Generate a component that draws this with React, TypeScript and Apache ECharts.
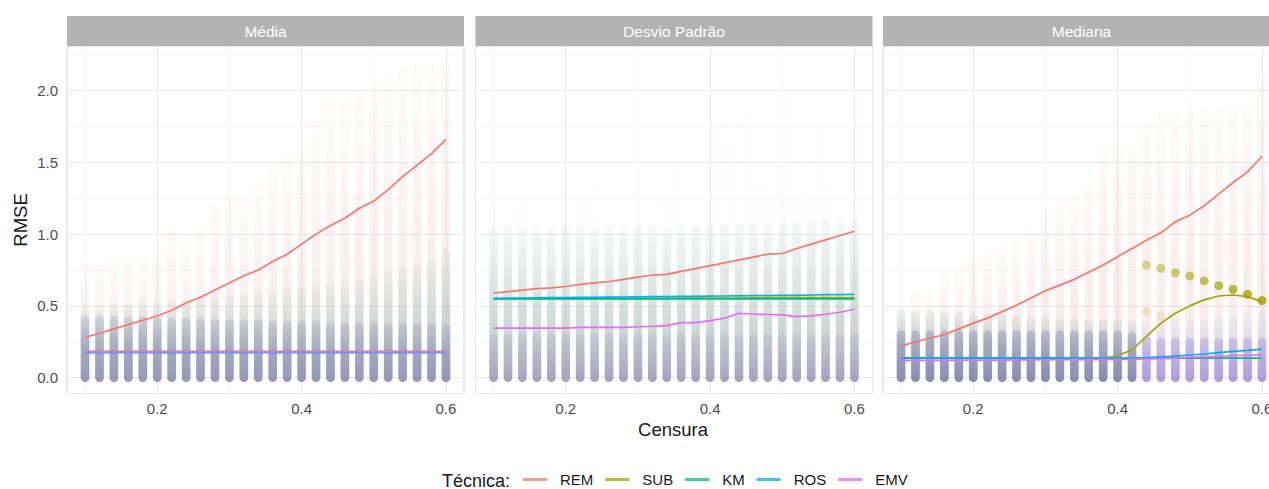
import React, { useEffect, useRef } from "react";
import * as echarts from "echarts";

// ---------- data ----------
const censura = [0.10, 0.12, 0.14, 0.16, 0.18, 0.20, 0.22, 0.24, 0.26, 0.28, 0.30, 0.32, 0.34, 0.36, 0.38, 0.40, 0.42, 0.44, 0.46, 0.48, 0.50, 0.52, 0.54, 0.56, 0.58, 0.60];
const techniques = ["REM", "SUB", "KM", "ROS", "EMV"];
const techColors = ["#F8766D", "#A3A500", "#00BF7D", "#00B0F6", "#E76BF3"];
const panelTitles = ["Média", "Desvio Padrão", "Mediana"];

// Média
const remMedia = [0.28, 0.31, 0.34, 0.37, 0.40, 0.43, 0.47, 0.52, 0.56, 0.61, 0.66, 0.71, 0.75, 0.81, 0.86, 0.93, 1.00, 1.06, 1.11, 1.18, 1.23, 1.31, 1.40, 1.48, 1.56, 1.66];
const subMedia = [0.184, 0.184, 0.184, 0.184, 0.184, 0.184, 0.184, 0.184, 0.184, 0.184, 0.184, 0.184, 0.184, 0.184, 0.184, 0.184, 0.184, 0.184, 0.184, 0.184, 0.184, 0.184, 0.184, 0.184, 0.184, 0.184];
const kmMedia = [0.18, 0.18, 0.18, 0.18, 0.18, 0.18, 0.18, 0.18, 0.18, 0.18, 0.18, 0.18, 0.18, 0.18, 0.18, 0.18, 0.18, 0.18, 0.18, 0.18, 0.18, 0.18, 0.18, 0.18, 0.18, 0.18];
const rosMedia = [0.175, 0.175, 0.175, 0.175, 0.175, 0.175, 0.175, 0.175, 0.175, 0.175, 0.175, 0.175, 0.175, 0.175, 0.175, 0.175, 0.175, 0.175, 0.175, 0.175, 0.175, 0.175, 0.175, 0.175, 0.175, 0.175];
const emvMedia = [0.18, 0.18, 0.18, 0.18, 0.18, 0.18, 0.18, 0.18, 0.18, 0.18, 0.18, 0.18, 0.18, 0.18, 0.18, 0.18, 0.18, 0.18, 0.18, 0.18, 0.18, 0.18, 0.18, 0.18, 0.18, 0.18];

// Desvio Padrão
const remDesvio = [0.59, 0.60, 0.61, 0.62, 0.625, 0.635, 0.65, 0.66, 0.67, 0.685, 0.70, 0.715, 0.72, 0.74, 0.76, 0.78, 0.80, 0.82, 0.84, 0.86, 0.865, 0.90, 0.93, 0.96, 0.99, 1.02];
const subDesvio = [0.550, 0.550, 0.550, 0.550, 0.550, 0.550, 0.551, 0.551, 0.552, 0.552, 0.552, 0.553, 0.553, 0.554, 0.554, 0.555, 0.555, 0.555, 0.556, 0.556, 0.557, 0.557, 0.557, 0.558, 0.558, 0.558];
const kmDesvio = [0.549, 0.549, 0.549, 0.549, 0.549, 0.549, 0.549, 0.549, 0.549, 0.549, 0.549, 0.549, 0.549, 0.549, 0.549, 0.549, 0.549, 0.549, 0.549, 0.549, 0.549, 0.549, 0.549, 0.549, 0.549, 0.549];
const rosDesvio = [0.553, 0.554, 0.555, 0.556, 0.557, 0.558, 0.559, 0.560, 0.561, 0.562, 0.563, 0.564, 0.565, 0.566, 0.567, 0.568, 0.569, 0.570, 0.571, 0.572, 0.573, 0.574, 0.576, 0.578, 0.579, 0.581];
const emvDesvio = [0.345, 0.345, 0.345, 0.345, 0.345, 0.345, 0.35, 0.35, 0.35, 0.35, 0.355, 0.358, 0.363, 0.384, 0.384, 0.398, 0.414, 0.449, 0.442, 0.44, 0.438, 0.426, 0.43, 0.442, 0.456, 0.477];

// Mediana
const remMediana = [0.22, 0.25, 0.275, 0.30, 0.34, 0.38, 0.415, 0.46, 0.505, 0.555, 0.605, 0.645, 0.685, 0.735, 0.785, 0.843, 0.90, 0.958, 1.009, 1.086, 1.132, 1.197, 1.278, 1.359, 1.433, 1.542];
const subMediana = [0.137, 0.137, 0.137, 0.137, 0.137, 0.137, 0.137, 0.137, 0.137, 0.137, 0.137, 0.137, 0.137, 0.137, 0.137, 0.153, 0.194, 0.287, 0.38, 0.449, 0.50, 0.542, 0.569, 0.576, 0.565, 0.53];
const kmMediana = [0.137, 0.137, 0.137, 0.137, 0.137, 0.137, 0.137, 0.137, 0.137, 0.137, 0.137, 0.137, 0.137, 0.137, 0.137, 0.137, 0.137, 0.137, 0.137, 0.137, 0.137, 0.137, 0.137, 0.137, 0.137, 0.137];
const rosMediana = [0.137, 0.137, 0.137, 0.137, 0.137, 0.137, 0.137, 0.137, 0.137, 0.137, 0.137, 0.137, 0.137, 0.137, 0.137, 0.137, 0.137, 0.140, 0.145, 0.150, 0.158, 0.165, 0.175, 0.183, 0.190, 0.199];
const emvMediana = [0.120, 0.120, 0.121, 0.121, 0.122, 0.122, 0.123, 0.123, 0.124, 0.124, 0.125, 0.125, 0.126, 0.126, 0.127, 0.128, 0.129, 0.131, 0.133, 0.136, 0.141, 0.145, 0.149, 0.153, 0.156, 0.160];

// highlighted SUB points (Mediana)
const subPointsX = [0.44, 0.46, 0.48, 0.50, 0.52, 0.54, 0.56, 0.58, 0.60];
const subPointsY = [0.785, 0.762, 0.731, 0.708, 0.674, 0.641, 0.616, 0.581, 0.537];
const subFaintX = [0.44, 0.46];
const subFaintY = [0.46, 0.43];

// point clouds per column: top of dense band, top of mid band, top of faint REM band
const denseMedia = [0.40, 0.40, 0.40, 0.40, 0.40, 0.39, 0.39, 0.39, 0.39, 0.38, 0.38, 0.38, 0.38, 0.37, 0.37, 0.37, 0.37, 0.36, 0.36, 0.36, 0.36, 0.35, 0.35, 0.35, 0.35, 0.35];
const midMedia = [0.48, 0.48, 0.49, 0.49, 0.50, 0.50, 0.51, 0.52, 0.53, 0.54, 0.55, 0.56, 0.57, 0.58, 0.60, 0.61, 0.62, 0.63, 0.65, 0.67, 0.69, 0.72, 0.75, 0.76, 0.80, 0.87];
const redMedia = [0.78, 0.77, 0.80, 0.80, 0.83, 0.80, 1.03, 0.94, 1.01, 1.18, 1.23, 1.20, 1.31, 1.45, 1.53, 1.61, 1.76, 1.93, 1.90, 1.97, 2.03, 2.09, 2.15, 2.15, 2.13, 2.17];

const denseDesvio = [0.28, 0.28, 0.28, 0.28, 0.28, 0.28, 0.28, 0.28, 0.28, 0.28, 0.28, 0.28, 0.28, 0.28, 0.28, 0.28, 0.28, 0.28, 0.28, 0.28, 0.28, 0.28, 0.28, 0.28, 0.28, 0.28];
const midDesvio = [1.03, 1.03, 1.03, 1.03, 1.03, 1.03, 1.03, 1.03, 1.03, 1.03, 1.03, 1.03, 1.03, 1.03, 1.03, 1.03, 1.04, 1.04, 1.05, 1.05, 1.06, 1.06, 1.07, 1.07, 1.08, 1.08];
const redDesvio = [1.19, 1.21, 1.21, 1.25, 1.26, 1.27, 1.32, 1.33, 1.34, 1.38, 1.40, 1.42, 1.48, 1.57, 1.66, 1.73, 1.81, 1.84, 1.93, 2.03, 2.03, 2.14, 2.14, 1.80, 1.86, 1.94];

const denseMediana = [0.30, 0.30, 0.30, 0.30, 0.30, 0.30, 0.30, 0.30, 0.30, 0.30, 0.30, 0.30, 0.30, 0.30, 0.30, 0.30, 0.29, 0.26, 0.25, 0.25, 0.25, 0.25, 0.25, 0.25, 0.25, 0.25];
const midMediana = [0.45, 0.44, 0.44, 0.43, 0.43, 0.42, 0.42, 0.41, 0.41, 0.40, 0.40, 0.39, 0.39, 0.38, 0.38, 0.38, 0.37, 0.36, 0.37, 0.38, 0.38, 0.39, 0.40, 0.41, 0.42, 0.45];
const redMediana = [0.45, 0.57, 0.57, 0.73, 0.73, 0.80, 0.85, 0.90, 0.95, 1.00, 1.17, 1.20, 1.24, 1.32, 1.60, 1.60, 1.60, 1.745, 1.83, 1.83, 1.83, 1.85, 1.86, 1.86, 1.86, 2.09];

const panelLines = [
  [remMedia, subMedia, kmMedia, rosMedia, emvMedia],
  [remDesvio, subDesvio, kmDesvio, rosDesvio, emvDesvio],
  [remMediana, subMediana, kmMediana, rosMediana, emvMediana],
];
const panelClouds = [
  [denseMedia, midMedia, redMedia],
  [denseDesvio, midDesvio, redDesvio],
  [denseMediana, midMediana, redMediana],
];

// ---------- layout / style ----------
const FONT = "'Liberation Sans', Arial, sans-serif";
const GRID_LEFT = [67, 475.5, 883];
const GRID_TOP = 46;
const GRID_W = 397;
const GRID_H = 347.5;
const X_MIN = 0.075, X_MAX = 0.625;
const Y_MIN = -0.11, Y_MAX = 2.31;

type Scheme = { red: string[]; mid: string[]; dense: string[] };
const schemes: Scheme[] = [
  {
    red: ["rgba(240,165,165,0.05)", "rgba(240,150,150,0.15)", "rgba(240,150,150,0.2)"],
    mid: ["rgba(110,180,160,0.08)", "rgba(100,170,150,0.3)", "rgba(100,150,150,0.38)"],
    dense: ["rgba(132,138,182,0.2)", "rgba(122,128,176,0.5)", "rgba(118,122,172,0.62)"],
  },
  {
    red: ["rgba(240,170,180,0.02)", "rgba(240,170,180,0.05)"],
    mid: ["rgba(150,200,185,0.08)", "rgba(140,180,170,0.25)", "rgba(130,165,160,0.4)", "rgba(135,140,165,0.45)"],
    dense: ["rgba(140,130,175,0.12)", "rgba(130,120,170,0.5)"],
  },
  {
    red: ["rgba(240,160,160,0.05)", "rgba(240,150,150,0.16)", "rgba(240,150,150,0.22)"],
    mid: ["rgba(110,165,160,0.1)", "rgba(100,150,150,0.38)", "rgba(100,135,150,0.48)"],
    dense: ["rgba(120,120,175,0.3)", "rgba(112,110,170,0.62)"],
  },
];
const schemeMedianaRight: Scheme = {
  red: ["rgba(240,160,160,0.05)", "rgba(240,150,150,0.15)", "rgba(240,150,150,0.18)"],
  mid: ["rgba(160,185,230,0.1)", "rgba(150,165,220,0.3)", "rgba(150,150,215,0.4)"],
  dense: ["rgba(170,140,225,0.35)", "rgba(155,130,220,0.65)"],
};

function grad(stops: string[]) {
  return new echarts.graphic.LinearGradient(
    0, 0, 0, 1,
    stops.map((c, i) => ({ offset: i / (stops.length - 1), color: c }))
  );
}

export default function App() {
  const ref = useRef<HTMLDivElement>(null);

  useEffect(() => {
    document.body.style.margin = "0";
    if (!ref.current) return;
    const chart = echarts.init(ref.current, undefined, { renderer: "svg" });

    const grids = GRID_LEFT.map((left) => ({
      left, top: GRID_TOP, width: GRID_W, height: GRID_H,
      show: true, borderColor: "#d4d4d4", borderWidth: 1, backgroundColor: "transparent",
      containLabel: false,
    }));

    const xAxes = GRID_LEFT.map((_, i) => ({
      type: "value", gridIndex: i, min: X_MIN, max: X_MAX, splitNumber: 3,
      axisLine: { show: false }, axisTick: { show: false },
      axisLabel: {
        show: true, color: "#4d4d4d", fontSize: 15, fontFamily: FONT, margin: 7,
        showMinLabel: false, showMaxLabel: false,
        formatter: (v: number) => v.toFixed(1),
      },
      splitLine: { show: true, lineStyle: { color: "#e9e9e9", width: 1 } },
      minorTick: { show: false, splitNumber: 2 },
      minorSplitLine: { show: true, lineStyle: { color: "#f4f4f4", width: 1 } },
    }));

    const yAxes = GRID_LEFT.map((_, i) => ({
      type: "value", gridIndex: i, min: Y_MIN, max: Y_MAX, splitNumber: 5,
      axisLine: { show: false }, axisTick: { show: false },
      axisLabel: {
        show: i === 0, color: "#4d4d4d", fontSize: 15, fontFamily: FONT, margin: 9,
        showMinLabel: false, showMaxLabel: false,
        formatter: (v: number) => v.toFixed(1),
      },
      splitLine: { show: true, lineStyle: { color: "#e9e9e9", width: 1 } },
      minorTick: { show: false, splitNumber: 2 },
      minorSplitLine: { show: true, lineStyle: { color: "#f4f4f4", width: 1 } },
    }));

    const series: any[] = [];

    panelClouds.forEach((cloud, p) => {
      const [dense, mid, red] = cloud;
      series.push({
        type: "custom",
        xAxisIndex: p, yAxisIndex: p,
        silent: true,
        clip: false,
        encode: { x: 0, y: 3 },
        data: censura.map((x, i) => [x, dense[i], mid[i], red[i]]),
        renderItem: (params: any, api: any) => {
          const x = api.value(0);
          const base = api.coord([x, 0]);
          const pd = api.coord([x, api.value(1)]);
          const pm = api.coord([x, api.value(2)]);
          const pr = api.coord([x, api.value(3)]);
          const r = 4.3;
          const sc = p === 2 && x >= 0.43 ? schemeMedianaRight : schemes[p];
          const mk = (top: number[], fill: any) => ({
            type: "rect",
            shape: { x: base[0] - r, y: top[1] - r, width: 2 * r, height: base[1] - top[1] + 2 * r, r },
            style: { fill },
          });
          return {
            type: "group",
            children: [mk(pr, grad(sc.red)), mk(pm, grad(sc.mid)), mk(pd, grad(sc.dense))],
          };
        },
        z: 1,
      });
    });

    panelLines.forEach((lines, p) => {
      lines.forEach((vals, t) => {
        series.push({
          name: techniques[t],
          type: "line",
          xAxisIndex: p, yAxisIndex: p,
          data: censura.map((x, i) => [x, vals[i]]),
          showSymbol: false, symbol: "none",
          lineStyle: { color: techColors[t], width: 1.7 },
          itemStyle: { color: techColors[t] },
          z: 3,
        });
      });
    });

    series.push({
      type: "scatter", xAxisIndex: 2, yAxisIndex: 2, silent: true,
      symbolSize: 9,
      data: subPointsX.map((x, i) => ({
        value: [x, subPointsY[i]],
        itemStyle: { color: "#A3A500", opacity: 0.42 + i * 0.055 },
      })),
      z: 4,
    });
    series.push({
      type: "scatter", xAxisIndex: 2, yAxisIndex: 2, silent: true,
      symbolSize: 9,
      data: subFaintX.map((x, i) => ({
        value: [x, subFaintY[i]],
        itemStyle: { color: "#A3A500", opacity: 0.18 },
      })),
      z: 2,
    });

    const graphic: any[] = [];
    GRID_LEFT.forEach((left, i) => {
      graphic.push({
        type: "rect", left, top: 16,
        shape: { width: GRID_W, height: 30 },
        style: { fill: "#b3b3b3" }, silent: true,
      });
      graphic.push({
        type: "text", x: left + GRID_W / 2, y: 31.5,
        style: {
          text: panelTitles[i], fill: "#ffffff", font: `15.5px ${FONT}`,
          align: "center", verticalAlign: "middle",
        },
        silent: true,
      });
    });
    graphic.push({
      type: "text", x: 20, y: 220, rotation: Math.PI / 2,
      style: { text: "RMSE", fill: "#1a1a1a", font: `18.5px ${FONT}`, align: "center", verticalAlign: "middle" },
    });
    graphic.push({
      type: "text", x: 673, y: 429,
      style: { text: "Censura", fill: "#1a1a1a", font: `18.5px ${FONT}`, align: "center", verticalAlign: "middle" },
    });
    graphic.push({
      type: "text", x: 442, y: 480.5,
      style: { text: "Técnica:", fill: "#1a1a1a", font: `18px ${FONT}`, align: "left", verticalAlign: "middle" },
    });

    chart.setOption({
      animation: false,
      grid: grids,
      xAxis: xAxes,
      yAxis: yAxes,
      series,
      graphic,
      legend: {
        data: techniques,
        left: 523, top: 472, padding: 0,
        icon: "rect", itemWidth: 24, itemHeight: 3, itemGap: 12,
        itemStyle: { opacity: 0.75 },
        textStyle: { fontSize: 15, color: "#1a1a1a", fontFamily: FONT, padding: [0, 0, 0, 8] },
        selectedMode: false,
      },
    });

    return () => chart.dispose();
  }, []);

  return (
    <div style={{ width: 1269, height: 489, overflow: "hidden", position: "relative" }}>
      <div ref={ref} style={{ width: 1300, height: 489 }} />
    </div>
  );
}
